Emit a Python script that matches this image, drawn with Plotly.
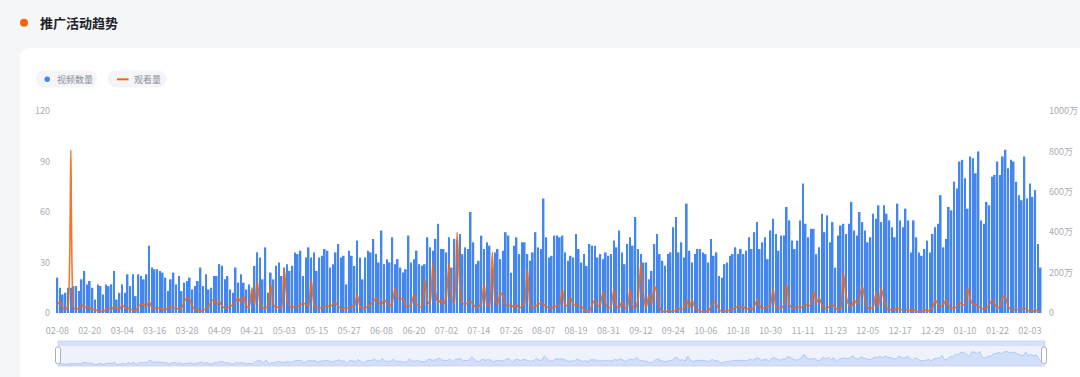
import pandas as pd
import plotly.graph_objects as go

# ---------------- data ----------------
dates = pd.date_range("2023-02-08", periods=365).strftime("%m-%d").tolist()

video_count = (
    [21,15,11,12,15,15,16,16,13,20,25,17,19,15,8,17,16,11,17,16,17,25,8,12,17,12,23,16,23,10,23,22,20]
    + [23,40,27,26,26,25,24,21,13,20,24,17,22,13,18,19,21,14,16,19,27,16,23,14,15,22,22,29,28,20,22,14,12,27,18]
    + [23,18,14,17,14,28,36,33,20,39,12,24,20,28,30,22,27,29,25,28,36,35,37,22,33,39,33,36,25,33,34,38,37,27,29,36,41,33,34]
    + [17,37,34,28,43,33,20,33,37,36,44,35,30,49,29,32,30,45,29,32,27,24,26,46,30,32,37,29,28,29,45,39,37,44,53,38,38]
    + [36,45,27,44,43,47,35,39,38,60,42,29,31,46,38,42,40,27,36,38,32,37,48,46,24,40,45,35,42,42,35,31,36,48,39,38,68]
    + [45,33,34,46,46,45,46,36,31,34,33,47,38,30,35,28,41,40,40,33,35,32,36,34,35,43,39,49,36,29,41,45,40,57,38,35,30]
    + [30,20,25,41,47,35,31,28,35,36,51,57,36,42,33,65,37,30,35,38,38,36,35,30,44,34,36,22,21,29,30,34,35,39,35,38,35]
    + [37,45,38,48,54,38,42,45,32,49,56,47,37,46,46,63,55,43,38,43,55,77,53,45,50,50,35,39,59,48,58,42,54,27,46,52,53,47]
    + [53,66,49,46,60,54,49,42,45,59,56,64,54,64,59,55,51,45,65,55,51,62,55,36,55,45,36,34,38,43,36,47,51,53,70]
    + [39,44,63,61,78,74,90,91,80,62,93,92,83,96,55,53,66,64,81,82,90,82,93,97,86,91,90,78,70,67,93,68,77,69,73,41,27]
)

# 观看量, in 万
views_wan = (
    [42,58,25,17,33,807,25,17,25,42,25,33,25,17,17,8,8,8,17,25,17,33,25,17,42,25,25,17,17,8,33,42,42]
    + [33,58,25,25,25,25,17,17,25,33,25,25,17,25,58,75,67,33,17,17,8,17,17,33,58,67,42,58,33,25,25,33,42,58,75]
    + [50,83,33,25,125,42,158,50,25,25,33,142,42,25,33,25,217,67,33,25,33,33,42,50,42,33,167,42,25,25,25,33,33,33,42,50,33,25,25]
    + [25,25,33,33,92,33,25,25,33,42,58,75,50,42,67,50,33,50,125,75,67,75,33,33,42,92,42,33,25,167,58,42,250,100,50,67,42]
    + [83,250,67,50,400,125,50,42,50,58,42,25,33,50,142,42,33,300,67,42,100,83,42,33,42,25,42,25,33,50,217,42,25,33,42,50,42]
    + [33,25,25,33,33,42,117,33,42,75,42,42,33,33,17,8,8,42,67,33,42,108,42,25,33,117,33,25,58,25,25,117,33,25,67,250,83]
    + [25,92,42,133,100,25,8,8,8,8,8,17,25,17,25,67,25,67,25,17,8,8,8,8,33,58,42,17,8,8,8,17,17,25,33,25,33]
    + [17,25,17,33,67,33,25,25,33,42,117,33,25,25,42,142,42,25,25,33,25,33,42,33,42,108,50,75,42,25,25,33,42,25,17,25,200,83]
    + [42,33,67,42,83,133,67,25,25,25,100,33,125,67,25,17,17,17,25,17,17,17,17,8,17,8,8,8,17,8,17,25,67,42,33]
    + [42,67,33,25,25,33,50,42,42,125,67,42,42,33,25,17,25,42,67,42,25,33,83,75,33,17,17,17,17,17,25,17,8,8,17,8,8]
)

left_ticks = [0, 30, 60, 90, 120]
right_ticks = [0, 200, 400, 600, 800, 1000]
right_tick_text = ["0", "200万", "400万", "600万", "800万", "1000万"]
x_tick_vals = dates[::12]

title_text = "推广活动趋势"
legend_names = ["视频数量", "观看量"]

# ---------------- geometry helpers ----------------
W, H = 1080, 377
ML, MR, MT, MB = 56, 38, 111, 11
PW, PH = W - ML - MR, H - MT - MB


def px(x):
    return (x - ML) / PW


def py(y):
    return (H - MB - y) / PH


def rrect(x0, y0, x1, y1, r):
    return (
        f"M {px(x0)},{py(y0 + r)} Q {px(x0)},{py(y0)} {px(x0 + r)},{py(y0)} "
        f"L {px(x1 - r)},{py(y0)} Q {px(x1)},{py(y0)} {px(x1)},{py(y0 + r)} "
        f"L {px(x1)},{py(y1 - r)} Q {px(x1)},{py(y1)} {px(x1 - r)},{py(y1)} "
        f"L {px(x0 + r)},{py(y1)} Q {px(x0)},{py(y1)} {px(x0)},{py(y1 - r)} Z"
    )


FONT = "Noto Sans CJK SC, Noto Sans, sans-serif"
BLUE = "#4386f0"
ORANGE = "rgba(238,104,22,0.9)"
GRAY = "#a9adb5"

fig = go.Figure()

fig.add_trace(go.Bar(
    x=dates, y=video_count, name=legend_names[0],
    marker=dict(color=BLUE, line=dict(width=0)),
    xaxis="x", yaxis="y",
))
fig.add_trace(go.Scatter(
    x=dates, y=views_wan, name=legend_names[1], mode="lines",
    line=dict(color=ORANGE, width=1.6, shape="spline", smoothing=0.4),
    xaxis="x", yaxis="y2",
))
# data shadow in the zoom slider
fig.add_trace(go.Scatter(
    x=dates, y=video_count, mode="lines", fill="tozeroy",
    line=dict(color="rgba(140,170,235,0.75)", width=0.7),
    fillcolor="rgba(160,188,240,0.35)",
    xaxis="x3", yaxis="y3", hoverinfo="skip",
))

y_main_dom = [py(313), 1]
shapes = []
# card
shapes.append(dict(type="path", xref="paper", yref="paper",
                   path=rrect(20, 48, 1092, 400, 10),
                   fillcolor="white", line=dict(width=0), layer="below"))
# title dot
shapes.append(dict(type="circle", xref="paper", yref="paper",
                   x0=px(20), x1=px(28), y0=py(26.7), y1=py(18.7),
                   fillcolor="#f2670f", line=dict(width=0)))
# legend pills
shapes.append(dict(type="path", xref="paper", yref="paper",
                   path=rrect(36, 70.5, 97, 87.5, 8.5),
                   fillcolor="#f3f5f8", line=dict(width=0), layer="below"))
shapes.append(dict(type="path", xref="paper", yref="paper",
                   path=rrect(108, 70.5, 166, 87.5, 8.5),
                   fillcolor="#f3f5f8", line=dict(width=0), layer="below"))
shapes.append(dict(type="circle", xref="paper", yref="paper",
                   x0=px(44.5), x1=px(50), y0=py(82), y1=py(76.5),
                   fillcolor=BLUE, line=dict(width=0)))
shapes.append(dict(type="line", xref="paper", yref="paper",
                   x0=px(117), x1=px(128.5), y0=py(79.3), y1=py(79.3),
                   line=dict(color="#f2670f", width=2)))
# zoom slider
shapes.append(dict(type="rect", xref="paper", yref="paper",
                   x0=px(58), x1=px(1045), y0=py(366), y1=py(341),
                   fillcolor="rgba(214,226,248,0.45)",
                   line=dict(color="#d3dcee", width=1), layer="below"))
shapes.append(dict(type="rect", xref="paper", yref="paper",
                   x0=px(58), x1=px(1045), y0=py(346), y1=py(341),
                   fillcolor="rgba(170,195,240,0.35)", line=dict(width=0)))
for hx in (58, 1044):
    shapes.append(dict(type="path", xref="paper", yref="paper",
                       path=rrect(hx - 2.5, 347, hx + 2.5, 363.5, 2),
                       fillcolor="white", line=dict(color="#a7b0c0", width=1)))

annotations = [
    dict(text=f"<b>{title_text}</b>", xref="paper", yref="paper",
         x=px(38), y=py(22.7), xanchor="left", yanchor="middle",
         showarrow=False, font=dict(size=13, color="#1f2329", family=FONT)),
    dict(text=legend_names[0], xref="paper", yref="paper",
         x=px(55), y=py(79.3), xanchor="left", yanchor="middle",
         showarrow=False, font=dict(size=9, color="#8a8f99", family=FONT)),
    dict(text=legend_names[1], xref="paper", yref="paper",
         x=px(132), y=py(79.3), xanchor="left", yanchor="middle",
         showarrow=False, font=dict(size=9, color="#8a8f99", family=FONT)),
]

fig.update_layout(
    width=W, height=H,
    margin=dict(l=ML, r=MR, t=MT, b=MB, pad=0, autoexpand=False),
    paper_bgcolor="#f5f6f8",
    plot_bgcolor="rgba(0,0,0,0)",
    showlegend=False,
    bargap=0.38,
    font=dict(family=FONT, size=9, color=GRAY),
    shapes=shapes,
    annotations=annotations,
    xaxis=dict(
        type="category", domain=[0, 1], anchor="y", automargin=False,
        range=[-0.5, len(dates) - 0.5],
        tickmode="array", tickvals=x_tick_vals, ticktext=x_tick_vals,
        tickangle=0, ticks="", showgrid=False, zeroline=False,
        showline=False, ticklabelstandoff=11,
        tickfont=dict(size=9, color=GRAY),
    ),
    yaxis=dict(
        domain=y_main_dom, range=[0, 120], tickvals=left_ticks, automargin=False,
        showgrid=False, zeroline=False, showline=False, ticks="",
        ticklabelstandoff=5, tickfont=dict(size=9, color=GRAY),
    ),
    yaxis2=dict(
        overlaying="y", side="right", anchor="x", range=[0, 1000], automargin=False,
        tickvals=right_ticks, ticktext=right_tick_text,
        showgrid=False, zeroline=False, showline=False, ticks="",
        ticklabelstandoff=6, tickfont=dict(size=9, color=GRAY),
    ),
    xaxis3=dict(
        type="category", domain=[px(58), 1], anchor="y3", automargin=False,
        range=[0, len(dates) - 1], visible=False,
    ),
    yaxis3=dict(domain=[0, py(341)], range=[0, 165], visible=False, automargin=False),
)

fig.write_html(
    "out.html",
    config={"displayModeBar": False},
    post_script="document.body.style.margin='0';document.body.style.padding='0';"
                "document.body.style.background='#f5f6f8';",
)
